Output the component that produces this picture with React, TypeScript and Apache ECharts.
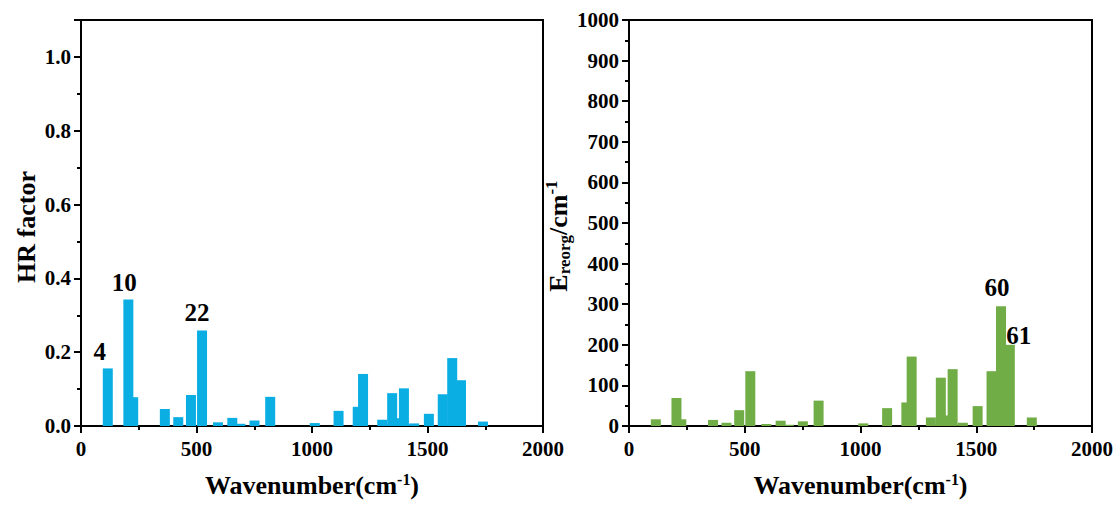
import React, { useEffect, useRef } from 'react';
import * as echarts from 'echarts';

// Vibrational modes (cm^-1)
const wavenumbers = [116, 205, 226, 363, 421, 476, 524, 593, 655, 690, 751, 819, 1012, 1115, 1198, 1221, 1304, 1347, 1372, 1398, 1442, 1506, 1566, 1607, 1645, 1740];
// Huang-Rhys factors (left panel)
const hrFactors = [0.156, 0.343, 0.078, 0.046, 0.024, 0.084, 0.259, 0.010, 0.022, 0.006, 0.015, 0.079, 0.008, 0.041, 0.052, 0.141, 0.017, 0.089, 0.021, 0.102, 0.007, 0.033, 0.086, 0.184, 0.124, 0.012];
// Reorganization energies in cm^-1 (right panel)
const reorgEnergies = [16.5, 69, 16.5, 15, 8, 39, 135, 5, 13, 3, 11.5, 62.5, 6.5, 44, 58, 171, 21, 119, 26, 140, 8, 49, 135, 295, 200, 21];
// Mode annotations
const hrAnnotations = [
  { wavenumber: 116, text: '4', offset: [-8, 1] },
  { wavenumber: 205, text: '10', offset: [-4, 1] },
  { wavenumber: 524, text: '22', offset: [-5, 0] },
];
const reorgAnnotations = [
  { wavenumber: 1607, text: '60', offset: [-4, -1] },
  { wavenumber: 1645, text: '61', offset: [9, 8] },
];
const xTicks = { min: 0, max: 2000, interval: 500 };

const FONT = "'Liberation Serif', 'Times New Roman', serif";
const BLUE = '#0AAEE3';
const GREEN = '#71AD47';

function buildData(values: number[], notes: { wavenumber: number; text: string; offset: number[] }[]) {
  const items = wavenumbers.map((w, i) => {
    const note = notes.find((n) => n.wavenumber === w);
    const item: any = { value: [w, values[i]] };
    if (note) {
      item.label = {
        show: true,
        position: 'top',
        formatter: note.text,
        offset: note.offset,
        color: '#000',
        fontSize: 25,
        fontWeight: 'bold',
        fontFamily: FONT,
      };
    }
    return item;
  });
  // taller bars drawn on top
  return items.sort((a, b) => a.value[1] - b.value[1]);
}

export default function App() {
  const ref = useRef<HTMLDivElement>(null);
  useEffect(() => {
    if (!ref.current) return;
    const chart = echarts.init(ref.current, null, { renderer: 'svg' });
    const axisLine = { show: true, lineStyle: { color: '#000', width: 2 } };
    const axisTick = { show: true, length: 7, lineStyle: { color: '#000', width: 2 } };
    const minorTick = { show: true, splitNumber: 2, length: 4, lineStyle: { color: '#000', width: 2 } };
    const axisLabel = { color: '#000', fontSize: 21, fontWeight: 'bold', fontFamily: FONT, margin: 10, formatter: (v: number) => String(v) };
    const nameStyle = { color: '#000', fontSize: 26, fontWeight: 'bold', fontFamily: FONT };
    const grid = { show: true, borderColor: '#000', borderWidth: 2, backgroundColor: 'transparent' };

    const xAxis = (gi: number) => ({
      type: 'value',
      gridIndex: gi,
      min: xTicks.min,
      max: xTicks.max,
      interval: xTicks.interval,
      axisLine,
      axisTick,
      minorTick,
      splitLine: { show: false },
      axisLabel: { ...axisLabel, margin: 12 },
      name: '{a|Wavenumber(cm}{sup|-1}{a|)}',
      nameLocation: 'middle',
      nameGap: 45,
      nameTextStyle: {
        ...nameStyle,
        rich: {
          a: { ...nameStyle, lineHeight: 28 },
          sup: { ...nameStyle, fontSize: 16, verticalAlign: 'top', lineHeight: 16 },
        },
      },
    });

    chart.setOption({
      animation: false,
      backgroundColor: '#fff',
      grid: [
        { ...grid, left: 81, top: 20, width: 462, height: 406 },
        { ...grid, left: 629, top: 20, width: 463, height: 406 },
      ],
      xAxis: [xAxis(0), xAxis(1)],
      yAxis: [
        {
          type: 'value',
          gridIndex: 0,
          min: 0,
          max: 1.1,
          interval: 0.2,
          axisLine,
          axisTick,
          minorTick,
          splitLine: { show: false },
          axisLabel: { ...axisLabel, showMaxLabel: false, formatter: (v: number) => v.toFixed(1) },
          name: 'HR factor',
          nameLocation: 'middle',
          nameGap: 42,
          nameTextStyle: { ...nameStyle, padding: [0, 8, 0, 0] },
        },
        {
          type: 'value',
          gridIndex: 1,
          min: 0,
          max: 1000,
          interval: 100,
          axisLine,
          axisTick,
          minorTick,
          splitLine: { show: false },
          axisLabel,
          name: '{a|E}{sub|reorg}{a|/cm}{sup|-1}',
          nameLocation: 'middle',
          nameGap: 46,
          nameTextStyle: {
            ...nameStyle,
            padding: [0, 26, 0, 0],
            rich: {
              a: { ...nameStyle, lineHeight: 30 },
              sub: { ...nameStyle, fontSize: 17, lineHeight: 17, verticalAlign: 'bottom' },
              sup: { ...nameStyle, fontSize: 17, lineHeight: 17, verticalAlign: 'top' },
            },
          },
        },
      ],
      series: [
        {
          type: 'bar',
          xAxisIndex: 0,
          yAxisIndex: 0,
          barWidth: 10,
          itemStyle: { color: BLUE },
          data: buildData(hrFactors, hrAnnotations),
        },
        {
          type: 'bar',
          xAxisIndex: 1,
          yAxisIndex: 1,
          barWidth: 10,
          itemStyle: { color: GREEN },
          data: buildData(reorgEnergies, reorgAnnotations),
        },
      ],
    });
    return () => chart.dispose();
  }, []);
  return <div ref={ref} style={{ position: 'fixed', left: 0, top: 0, width: 1120, height: 506 }} />;
}
